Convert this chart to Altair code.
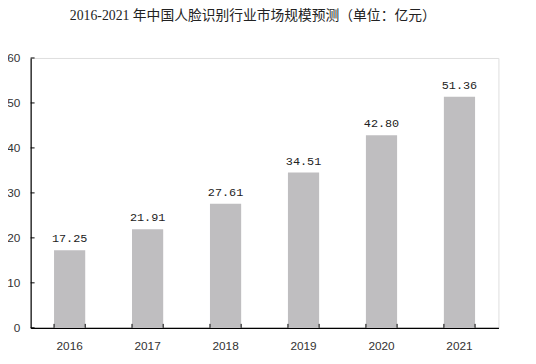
import altair as alt
import pandas as pd

years = ["2016", "2017", "2018", "2019", "2020", "2021"]
values = [17.25, 21.91, 27.61, 34.51, 42.80, 51.36]
labels = ["17.25", "21.91", "27.61", "34.51", "42.80", "51.36"]
yticks = [0, 10, 20, 30, 40, 50, 60]
title = "2016-2021 年中国人脸识别行业市场规模预测（单位：亿元）"

df = pd.DataFrame({"year": years, "value": values, "label": labels})
tdf = pd.DataFrame({"t": yticks})

W, H = 475, 274

xenc = alt.X("year:N", sort=years,
             scale=alt.Scale(paddingInner=0.6, paddingOuter=0.3),
             axis=alt.Axis(title=None, labelAngle=0, labelFont="Liberation Sans",
                           labelFontSize=12, labelColor="#333", labelPadding=13,
                           ticks=False, domainColor="#000", domainWidth=1.2))
yscale = alt.Scale(domain=[0, 60], nice=False)
yenc = alt.Y("value:Q", scale=yscale,
             axis=alt.Axis(title=None, values=yticks, grid=False, ticks=False,
                           labelFont="Liberation Sans", labelFontSize=12,
                           labelColor="#333", labelPadding=11,
                           domainColor="#000", domainWidth=1.2))

bars = alt.Chart(df).mark_bar(color="#BFBEC0").encode(x=xenc, y=yenc)
text = alt.Chart(df).mark_text(font="Liberation Mono", fontSize=12, color="#222",
                               baseline="bottom", dy=-5).encode(
    x=alt.X("year:N", sort=years), y=alt.Y("value:Q", scale=yscale), text="label:N")

yt = alt.Chart(tdf).mark_rule(color="#000", strokeWidth=1).encode(
    y=alt.Y("t:Q", scale=yscale), x=alt.value(0), x2=alt.value(4))
xt0 = alt.Chart(df).mark_rule(color="#000", strokeWidth=1).encode(
    x=alt.X("year:N", sort=years, bandPosition=0), y=alt.value(H - 4), y2=alt.value(H))
xt1 = alt.Chart(df).mark_rule(color="#000", strokeWidth=1).encode(
    x=alt.X("year:N", sort=years, bandPosition=1), y=alt.value(H - 4), y2=alt.value(H))

chart = alt.layer(bars, text, yt, xt0, xt1).properties(
    width=W, height=H,
    title=alt.TitleParams(title, font="'Liberation Serif', 'Noto Sans CJK SC'",
                          fontSize=14, fontWeight="normal", color="#222",
                          anchor="middle", offset=30, dx=-12),
    autosize=alt.AutoSizeParams(type="none"),
    padding={"left": 23, "top": 48, "right": 30, "bottom": 34},
).configure_view(stroke=None).configure(background="white")

chart.save("out.html", embed_options={"renderer": "svg", "actions": False})
